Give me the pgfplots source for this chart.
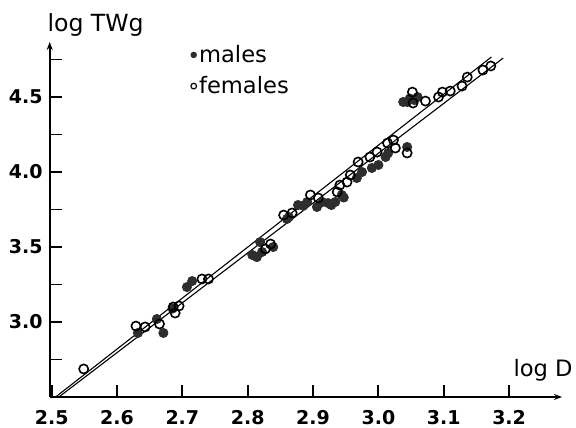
\documentclass[border=0pt]{standalone}
\usepackage{fontspec}
\setmainfont{DejaVu Sans}
\usepackage{pgfplots}
\pgfplotsset{compat=1.18}
\usetikzlibrary{arrows.meta}

\begin{document}
\begin{tikzpicture}
\useasboundingbox (0,0) rectangle (288pt,213.5pt);
\begin{axis}[
    at={(24.85pt,15pt)},
    anchor=south west,
    scale only axis,
    width=256.15pt,
    height=177.5pt,
    xmin=2.497, xmax=3.281,
    ymin=2.5, ymax=4.867,
    axis lines=left,
    axis line style={line width=0.9pt, -{Stealth[length=4pt,width=3pt]}},
    tick align=inside,
    major tick length=6pt,
    tick style={line width=0.9pt, black},
    xtick={2.5,2.6,2.7,2.8,2.9,3.0,3.1,3.2},
    xticklabels={2.5,2.6,2.7,2.8,2.9,3.0,3.1,3.2},
    ytick={2.75,3.0,3.25,3.5,3.75,4.0,4.25,4.5,4.75},
    yticklabels={{},3.0,{},3.5,{},4.0,{},4.5,{}},
    tick label style={font=\fontsize{9.5}{11}\selectfont\bfseries},
    xticklabel style={yshift=-3pt},
    clip=false,
    legend style={at={(axis description cs:0.262,1.01)}, anchor=north west,
        draw=none, fill=none, font=\fontsize{11.3}{13}\selectfont,
        row sep=3.5pt, nodes={inner sep=1pt}},
    legend cell align=left,
]
% regression lines
\addplot[black, line width=0.55pt, forget plot] coordinates {(2.506,2.5) (3.173,4.767)};
\addplot[black, line width=0.55pt, forget plot] coordinates {(2.511,2.5) (3.191,4.76)};

% males (filled)
\addplot[only marks, mark=*, mark size=2.3pt, mark options={fill=black!82, draw=black!82},
    legend image code/.code={\fill[black!82] (0pt,0pt) circle (1.4pt);}]
coordinates {
(2.632,2.927) (2.661,3.02) (2.671,2.927) (2.685,3.09) (2.707,3.233) (2.715,3.273)
(2.807,3.447) (2.814,3.433) (2.819,3.533) (2.822,3.467) (2.839,3.50)
(2.860,3.687) (2.863,3.70) (2.877,3.78) (2.885,3.775) (2.891,3.80) (2.906,3.767)
(2.914,3.80) (2.923,3.793) (2.928,3.78) (2.934,3.80) (2.944,3.847) (2.947,3.83)
(2.967,3.96) (2.975,4.0) (2.990,4.027) (3.0,4.047) (3.011,4.1) (3.015,4.127)
(3.044,4.167) (3.038,4.467) (3.044,4.467) (3.048,4.49) (3.055,4.48) (3.06,4.50)
};
\addlegendentry{males}

% females (open)
\addplot[only marks, mark=o, mark size=2.3pt, mark options={fill=white, draw=black, line width=0.8pt},
    legend image code/.code={\draw[line width=0.6pt] (0pt,0pt) circle (1.4pt);}]
coordinates {
(2.549,2.687) (2.629,2.973) (2.643,2.967) (2.665,2.987) (2.686,3.10) (2.689,3.06)
(2.695,3.107) (2.730,3.287) (2.740,3.287) (2.827,3.487) (2.835,3.52)
(2.855,3.713) (2.868,3.727) (2.896,3.847) (2.908,3.827) (2.937,3.867) (2.941,3.913)
(2.952,3.933) (2.957,3.98) (2.969,4.067) (2.987,4.10) (2.998,4.133) (3.014,4.193)
(3.023,4.213) (3.026,4.16) (3.044,4.127) (3.052,4.533) (3.053,4.46) (3.072,4.473)
(3.092,4.50) (3.098,4.533) (3.110,4.54) (3.128,4.573) (3.136,4.633) (3.160,4.68)
(3.172,4.707)
};
\addlegendentry{females}

\node[anchor=base west, inner sep=0pt, font=\fontsize{11.8}{13}\selectfont]
    at (axis description cs:0,1) [xshift=-1.3pt, yshift=5pt] {log TWg};
\node[anchor=base east, inner sep=0pt, font=\fontsize{11.3}{13}\selectfont]
    at (axis description cs:1,0) [xshift=5.5pt, yshift=10.5pt] {log D};
\end{axis}
\end{tikzpicture}
\end{document}
